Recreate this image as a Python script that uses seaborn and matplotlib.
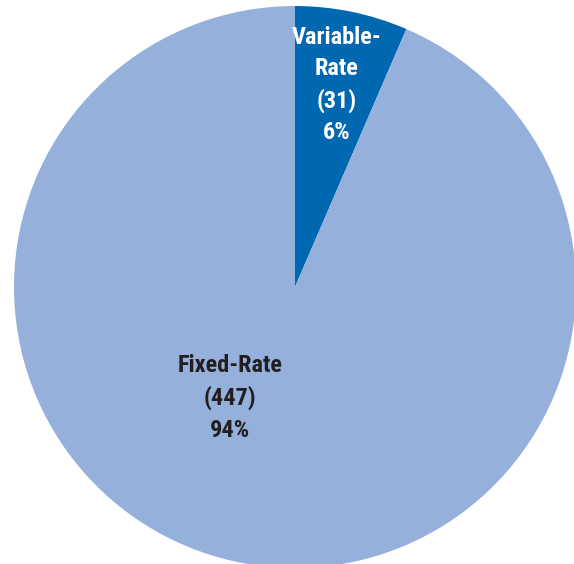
import matplotlib
matplotlib.use("Agg")
import matplotlib.pyplot as plt
import seaborn as sns

sns.set_theme(style="white")
plt.rcParams["font.family"] = ["Roboto Condensed", "DejaVu Sans"]

# Loan counts by rate type
categories = ["Variable-Rate", "Fixed-Rate"]
counts = [31, 447]
colors = ["#0067B1", "#95B1DB"]
text_colors = ["white", "#231F20"]

total = sum(counts)
pcts = [round(100 * c / total) for c in counts]

fig = plt.figure(figsize=(5.74, 5.64), dpi=100)
ax = fig.add_axes([0, 0, 1, 1])

wedges, _ = ax.pie(counts, colors=colors, startangle=90, counterclock=False,
                   radius=1.0, center=(0, 0),
                   wedgeprops=dict(linewidth=0, edgecolor="none"))

ax.set_xlim(-1.0498, 0.9929)
ax.set_ylim(-0.9858, 1.0214)
ax.set_aspect("auto")
ax.axis("off")

# Label placements (data coordinates of each label block's centre)
label_pos = [(0.149, 0.718), (-0.231, -0.395)]
for cat, n, p, (x, y), tc in zip(categories, counts, pcts, label_pos, text_colors):
    if cat == "Variable-Rate":
        txt = f"Variable-\nRate\n({n})\n{p}%"
    else:
        txt = f"{cat}\n({n})\n{p}%"
    ax.text(x, y, txt, ha="center", va="center", color=tc,
            fontsize=17.5, fontweight="bold", linespacing=1.45)

fig.savefig("out.png", dpi=100)
